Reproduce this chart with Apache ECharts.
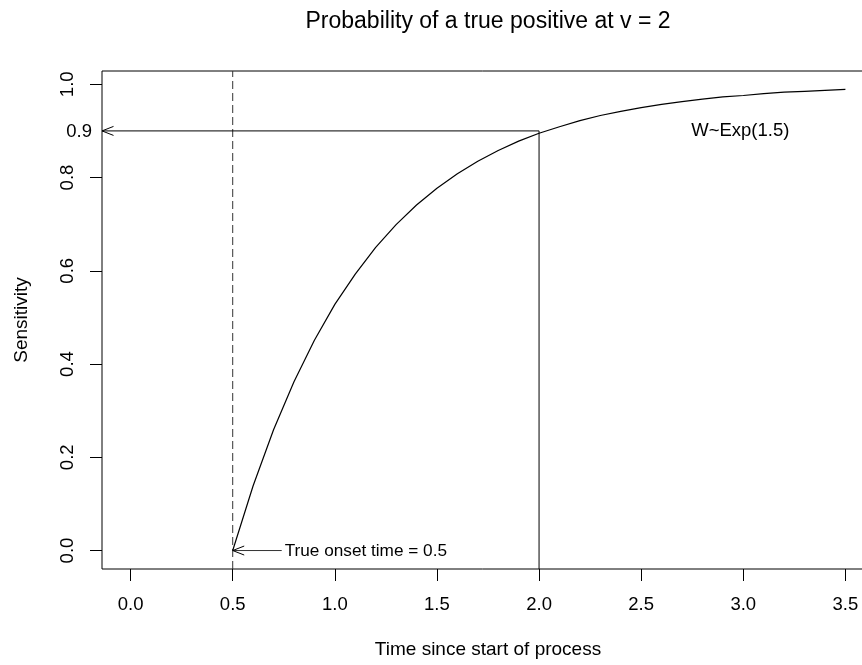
<!DOCTYPE html>
<html>
<head>
<meta charset="utf-8">
<script src="https://cdn.jsdelivr.net/npm/echarts@6/dist/echarts.min.js"></script>
<style>
html,body{margin:0;padding:0;background:#fff;}
#chart{width:862px;height:665px;}
</style>
</head>
<body>
<div id="chart"></div>
<script>
// ---- data ----
const timeValues = [0.5,0.6,0.7,0.8,0.9,1.0,1.1,1.2,1.3,1.4,1.5,1.6,1.7,1.8,1.9,2.0,2.1,2.2,2.3,2.4,2.5,2.6,2.7,2.8,2.9,3.0,3.1,3.2,3.3,3.4,3.5];
const sensitivityValues = [0,0.139,0.259,0.362,0.451,0.528,0.593,0.650,0.699,0.741,0.777,0.808,0.835,0.858,0.878,0.895,0.909,0.922,0.933,0.942,0.950,0.957,0.963,0.968,0.973,0.976,0.980,0.983,0.985,0.987,0.989];
const xTicks = [0,0.5,1.0,1.5,2.0,2.5,3.0,3.5];
const yTicks = [0,0.2,0.4,0.6,0.8,1.0];
const onsetTime = 0.5;
const targetTime = 2.0;
const targetSens = 0.9;
const onsetLabelTime = 0.74;
const distLabelTime = 3.0;
const titleText = 'Probability of a true positive at v = 2';
const xTitle = 'Time since start of process';
const yTitle = 'Sensitivity';
const onsetLabel = 'True onset time = 0.5';
const distLabel = 'W~Exp(1.5)';
const targetLabel = '0.9';

const X_MIN = -0.14, X_MAX = 3.64, Y_MIN = -0.0396, Y_MAX = 1.0285;
const FONT = '"Liberation Sans", Arial, Helvetica, sans-serif';

const chart = echarts.init(document.getElementById('chart'), null, {renderer: 'canvas'});

function renderAnnotations(params, api) {
  const p = (x, y) => api.coord([x, y]);
  const tgt = p(targetTime, targetSens);
  const left = p(X_MIN, targetSens);
  const onB = p(onsetTime, Y_MIN), onT = p(onsetTime, Y_MAX);
  const vB = p(targetTime, Y_MIN);
  const oTip = p(onsetTime, 0), oStart = p(onsetLabelTime, 0);
  const dist = p(distLabelTime, targetSens);
  const ln = (a, b, extra) => ({type: 'line', shape: {x1: a[0], y1: a[1], x2: b[0], y2: b[1]},
    style: Object.assign({stroke: '#000', lineWidth: 1}, extra || {})});
  const head = (t) => ({type: 'polyline', shape: {points: [[t[0] + 11.5, t[1] - 4.5], [t[0], t[1]], [t[0] + 11.5, t[1] + 4.5]]},
    style: {stroke: '#000', lineWidth: 1, fill: null}});
  const txt = (x, y, text, size, align) => ({type: 'text', x: x, y: y,
    style: {text: text, fill: '#000', fontSize: size, fontFamily: FONT, align: align, verticalAlign: 'middle'}});
  return {type: 'group', children: [
    ln(onB, onT, {lineDash: [8, 4], stroke: '#333'}),
    ln(tgt, vB),
    ln(tgt, left),
    head(left),
    ln(oStart, oTip, {stroke: '#333'}),
    head(oTip),
    txt(oStart[0] + 3, oStart[1] + 1, onsetLabel, 17.2, 'left'),
    txt(dist[0] - 3, dist[1], distLabel, 18.5, 'center'),
    txt(left[0] - 10, left[1] + 1, targetLabel, 18.5, 'right')
  ]};
}

chart.setOption({
  animation: false,
  backgroundColor: '#fff',
  grid: {left: 102, top: 71, width: 772, height: 498, show: true, borderColor: '#000', borderWidth: 1,
    backgroundColor: 'transparent', outerBoundsMode: 'none', containLabel: false},
  xAxis: {
    type: 'value', min: X_MIN, max: X_MAX,
    axisLine: {show: false, onZero: false},
    splitLine: {show: false},
    axisTick: {show: true, inside: false, length: 12, lineStyle: {color: '#000'}, customValues: xTicks},
    axisLabel: {customValues: xTicks, margin: 26, fontSize: 18.5, fontFamily: FONT, color: '#000',
      formatter: v => v.toFixed(1)}
  },
  yAxis: {
    type: 'value', min: Y_MIN, max: Y_MAX,
    axisLine: {show: false, onZero: false},
    splitLine: {show: false},
    axisTick: {show: true, inside: false, length: 12, lineStyle: {color: '#000'}, customValues: yTicks},
    axisLabel: {customValues: yTicks, margin: 25, rotate: 90, fontSize: 18.5, fontFamily: FONT, color: '#000',
      formatter: v => v.toFixed(1)}
  },
  graphic: [
    {type: 'text', x: 488, y: 22, style: {text: titleText, fontSize: 23, fontFamily: FONT, fill: '#000', align: 'center', verticalAlign: 'middle'}},
    {type: 'text', x: 488, y: 650, style: {text: xTitle, fontSize: 19, fontFamily: FONT, fill: '#000', align: 'center', verticalAlign: 'middle'}},
    {type: 'text', x: 22, y: 320, rotation: Math.PI / 2, style: {text: yTitle, fontSize: 19, fontFamily: FONT, fill: '#000', align: 'center', verticalAlign: 'middle'}}
  ],
  series: [
    {type: 'line', name: 'Sensitivity', data: timeValues.map((t, i) => [t, sensitivityValues[i]]),
      symbol: 'none', smooth: false, lineStyle: {color: '#000', width: 1.2}, clip: false},
    {type: 'custom', name: 'annotations', data: [[0, 0]], clip: false, renderItem: renderAnnotations, silent: true}
  ]
});
</script>
</body>
</html>
